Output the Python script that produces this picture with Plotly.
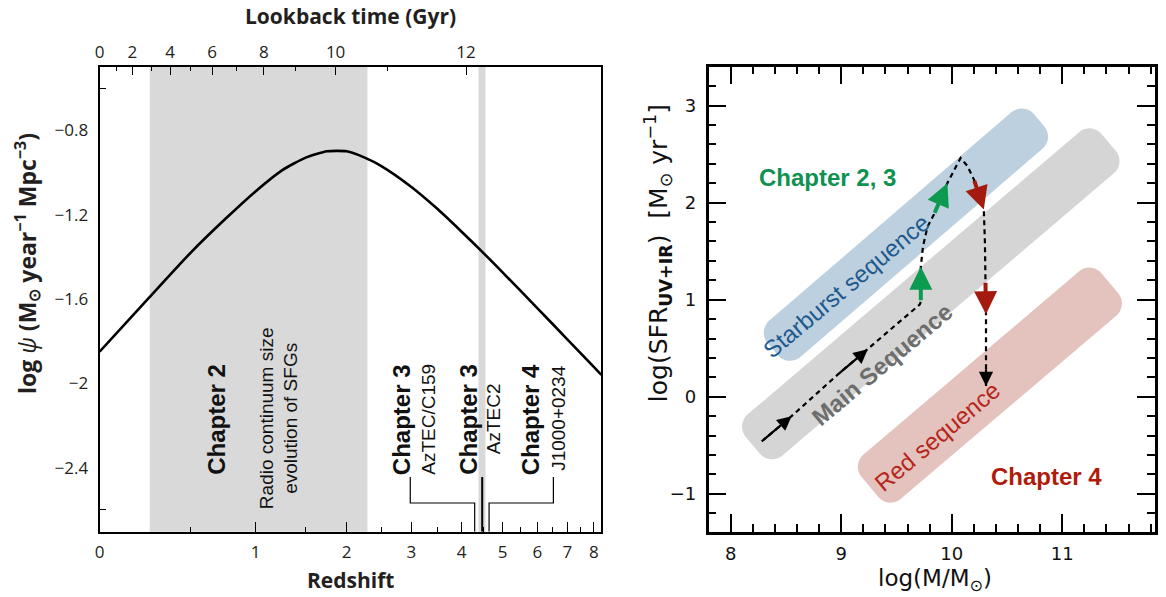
import numpy as np
import plotly.graph_objects as go

W, H = 1166, 597

# ---------------- left panel: cosmic star-formation rate density ----------------
Z_CURVE = [0, 0.25, 0.5, 0.75, 1.0, 1.25, 1.5, 1.75, 2.0, 2.25, 2.5,
           3.0, 3.5, 4.0, 4.5, 5.0, 6.0, 7.0, 8.0, 8.31]
LOG_PSI = [-1.850, -1.590, -1.380, -1.220, -1.090, -0.990, -0.930, -0.900, -0.900, -0.930, -0.970,
           -1.069, -1.175, -1.281, -1.380, -1.474, -1.643, -1.791, -1.922, -1.960]

REDSHIFT_MAJOR = [0, 1, 2, 3, 4, 5, 6, 7, 8]
REDSHIFT_MINOR = [0.5, 1.5, 2.5, 3.5, 4.5, 5.5, 6.5, 7.5]
LOOKBACK_GYR = [0, 1, 2, 3, 4, 5, 6, 7, 8, 9, 10, 11, 12]
LOOKBACK_Z = [0.0, 0.078, 0.157, 0.259, 0.369, 0.496, 0.649, 0.834, 1.076, 1.393, 1.856, 2.595, 4.10]
PSI_TICKS = [-0.8, -1.2, -1.6, -2.0, -2.4]
PSI_TICK_TEXT = ["\u22120.8", "\u22121.2", "\u22121.6", "\u22122", "\u22122.4"]
PSI_EDGE_TICKS = [-0.6, -2.6]
SHADED_Z = [(0.25, 2.29), (4.39, 4.56)]

# ---------------- right panel: SFR - stellar mass plane ----------------
MASS_TICKS = [8, 9, 10, 11]
SFR_TICKS = [-1, 0, 1, 2, 3]
SFR_TICK_TEXT = ["\u22121", "0", "1", "2", "3"]

# sequences: start (logM, logSFR), end (logM, logSFR), band width in px
BANDS = [
    ("main", (8.20, -0.50), (11.42, 2.62), 54, "#d5d5d5"),
    ("starburst", (8.38, 0.49), (10.79, 2.85), 48, "#bdd0df"),
    ("red", (9.26, -0.93), (11.43, 1.17), 58, "#e4c2be"),
]

TRACK_M = [8.28, 8.55, 8.97, 9.24, 9.71, 9.72, 9.72, 9.74, 9.78, 9.84, 9.96, 10.08,
           10.14, 10.20, 10.29, 10.30, 10.305, 10.31, 10.31]
TRACK_SFR = [-0.46, -0.20, 0.23, 0.49, 0.95, 0.98, 1.34, 1.55, 1.75, 1.88, 2.20, 2.46,
             2.38, 2.24, 1.93, 1.60, 1.19, 0.85, 0.11]

# arrows: (tail M, tail SFR, head M, head SFR)
BLACK_ARROWS = [(8.28, -0.46, 8.55, -0.20), (8.97, 0.23, 9.24, 0.49), (10.31, 0.30, 10.31, 0.11)]
GREEN_ARROWS = [(9.72, 0.98, 9.72, 1.34), (9.84, 1.88, 9.96, 2.20)]
RED_ARROWS = [(10.20, 2.24, 10.29, 1.93), (10.305, 1.19, 10.31, 0.85)]

# ---------------- geometry ----------------
LEFT_PX = (95, 599)
RIGHT_PX = (706.7, 1155)
TOP_PX, BOT_PX = 66.7, 531.7
LX_RANGE = [0.0, 0.969]
LY_RANGE = [-2.703, -0.499]
RX_RANGE = [7.80, 11.84]
RY_RANGE = [-1.39, 3.40]

def lz(z):
    return np.log10(1.0 + np.asarray(z, dtype=float))

def px(x):
    return x / W

def py(y):
    return 1 - y / H

TICK_FONT_L = dict(family="Open Sans", size=17, color="#231f20")
TICK_FONT_R = dict(family="DejaVu Sans", size=18, color="#111")

fig = go.Figure()

# left: SFRD curve
fig.add_trace(go.Scatter(x=lz(Z_CURVE), y=LOG_PSI, mode="lines",
                         line=dict(color="black", width=2.6, shape="spline", smoothing=0.6),
                         xaxis="x", yaxis="y", hoverinfo="skip", showlegend=False))
# keeps the lookback-time axis alive
fig.add_trace(go.Scatter(x=[0], y=[-1], mode="markers", marker=dict(opacity=0),
                         xaxis="x2", yaxis="y", hoverinfo="skip", showlegend=False))

# right: evolutionary track
fig.add_trace(go.Scatter(x=TRACK_M, y=TRACK_SFR, mode="lines",
                         line=dict(color="black", width=2.2, dash="5px,4px"),
                         xaxis="x3", yaxis="y2", hoverinfo="skip", showlegend=False))

shapes = []
for z0, z1 in SHADED_Z:
    shapes.append(dict(type="rect", xref="x", yref="y domain", x0=float(lz(z0)), x1=float(lz(z1)),
                       y0=0, y1=1, fillcolor="#d9d9d9", line=dict(width=0), layer="below"))

# connector brackets from labels to the redshift axis
BR_TOP, BR_MID, BR_BOT = -2.444, -2.567, LY_RANGE[0]
def seg(pts, width=1.2):
    d = "M " + " L ".join(f"{float(lz(z)):.5f},{v:.4f}" for z, v in pts)
    return dict(type="path", xref="x", yref="y", path=d, line=dict(color="black", width=width))
shapes.append(seg([(2.98, BR_TOP), (2.98, BR_MID), (4.30, BR_MID), (4.30, BR_BOT)]))
shapes.append(seg([(4.48, BR_TOP), (4.48, BR_BOT)], width=2))
shapes.append(seg([(6.52, BR_TOP), (6.52, BR_MID), (4.65, BR_MID), (4.65, BR_BOT)]))

# rounded sequence bands (rectangles in screen space)
sx = (RIGHT_PX[1] - RIGHT_PX[0]) / (RX_RANGE[1] - RX_RANGE[0])
sy = (BOT_PX - TOP_PX) / (RY_RANGE[1] - RY_RANGE[0])

def band_path(p0, p1, width, radius=16, n=10):
    u0, v0 = p0[0] * sx, p0[1] * sy
    u1, v1 = p1[0] * sx, p1[1] * sy
    L = np.hypot(u1 - u0, v1 - v0)
    d = np.array([(u1 - u0) / L, (v1 - v0) / L])
    nrm = np.array([-d[1], d[0]])
    hw = width / 2.0
    r = min(radius, hw)
    pts = []
    arcs = [((L - r, -hw + r), -90, 0), ((L - r, hw - r), 0, 90),
            ((r, hw - r), 90, 180), ((r, -hw + r), 180, 270)]
    for (ct, cw), a0, a1 in arcs:
        for a in np.radians(np.linspace(a0, a1, n)):
            t, w = ct + r * np.cos(a), cw + r * np.sin(a)
            u = u0 + t * d[0] + w * nrm[0]
            v = v0 + t * d[1] + w * nrm[1]
            pts.append((u / sx, v / sy))
    return "M " + " L ".join(f"{a:.4f},{b:.4f}" for a, b in pts) + " Z"

for name, p0, p1, wdt, col in BANDS:
    shapes.append(dict(type="path", xref="x3", yref="y2", path=band_path(p0, p1, wdt),
                       fillcolor=col, line=dict(width=0), layer="below"))

annotations = []

def arrow(a, color, width, size):
    return dict(x=a[2], y=a[3], ax=a[0], ay=a[1], xref="x3", yref="y2", axref="x3", ayref="y2",
                text="", showarrow=True, arrowhead=2, arrowsize=size, arrowwidth=width,
                arrowcolor=color, standoff=0, startstandoff=0)

for a in BLACK_ARROWS:
    annotations.append(arrow(a, "black", 2.2, 1.3))
for a in GREEN_ARROWS:
    annotations.append(arrow(a, "#0b9a4f", 4, 1.15))
for a in RED_ARROWS:
    annotations.append(arrow(a, "#a51a0e", 4, 1.15))

# left panel rotated labels
def vlabel(text, z, y, size, bold=False, yanchor="bottom"):
    t = f"<b>{text}</b>" if bold else text
    return dict(x=float(lz(z)), y=y, xref="x", yref="y", text=t, textangle=-90, showarrow=False,
                xanchor="center", yanchor=yanchor,
                font=dict(family="Liberation Sans", size=size, color="#111"))

annotations += [
    vlabel("Chapter 2", 0.68, BR_TOP, 24, True),
    vlabel("Radio continuum size<br>evolution of SFGs", 1.22, -2.165, 19, yanchor="middle"),
    vlabel("Chapter 3", 2.83, BR_TOP, 24, True),
    vlabel("AzTEC/C159", 3.31, BR_TOP, 19),
    vlabel("Chapter 3", 4.15, BR_TOP, 24, True),
    vlabel("AzTEC2", 4.75, -2.17, 19, yanchor="middle"),
    vlabel("Chapter 4", 5.80, BR_TOP, 24, True),
    vlabel("J1000+0234", 6.67, -2.425, 19),
]

# right panel labels
def slabel(text, m, s, color, bold=False, angle=-40, size=24):
    t = f"<b>{text}</b>" if bold else text
    return dict(x=m, y=s, xref="x3", yref="y2", text=t, textangle=angle, showarrow=False,
                xanchor="center", yanchor="middle",
                font=dict(family="Liberation Sans", size=size, color=color))

annotations += [
    slabel("Starburst sequence", 9.04, 1.14, "#1f5a8e"),
    slabel("Main Sequence", 9.37, 0.33, "#6d6d6d", bold=True),
    slabel("Red sequence", 9.87, -0.41, "#b5261a"),
    slabel("Chapter 2, 3", 8.88, 2.26, "#0f9150", bold=True, angle=0),
    slabel("Chapter 4", 10.86, -0.82, "#b01c0c", bold=True, angle=0),
]

# axis titles
def title(text, x, y, font, angle=0):
    return dict(x=px(x), y=py(y), xref="paper", yref="paper", showarrow=False,
                xanchor="center", yanchor="middle", textangle=angle, text=text, font=font)

LFONT = dict(family="Open Sans", size=21, color="#231f20")
LFONT_Y = dict(family="Open Sans", size=23, color="#231f20")
RFONT = dict(family="DejaVu Sans", size=23, color="#111")
RFONT_Y = dict(family="DejaVu Sans", size=25, color="#111")
annotations += [
    title("<b>Lookback time (Gyr)</b>", 347, 16, LFONT),
    title("<b>Redshift</b>", 347, 580, LFONT),
    title("<b>log </b><i>\u03c8</i><b> (M<sub>\u2299</sub> year<sup>\u22121</sup> Mpc<sup>\u22123</sup>)</b>",
          22, 263, LFONT_Y, angle=-90),
    title("log(M/M<sub>\u2299</sub>)", 934, 580, RFONT),
    title("log(SFR<sub><b>UV+IR</b></sub>)\u00a0\u00a0[M<sub>\u2299</sub> yr<sup>\u22121</sup>]",
          656, 253, RFONT_Y, angle=-90),
]

ydom = [py(BOT_PX), py(TOP_PX)]
fig.update_layout(
    width=W, height=H, margin=dict(l=0, r=0, t=0, b=0),
    paper_bgcolor="white", plot_bgcolor="rgba(0,0,0,0)", showlegend=False,
    xaxis=dict(domain=[px(LEFT_PX[0]), px(LEFT_PX[1])], anchor="y", range=LX_RANGE,
               tickmode="array", tickvals=lz(REDSHIFT_MAJOR).tolist(),
               ticktext=[str(v) for v in REDSHIFT_MAJOR],
               ticks="inside", ticklen=10, tickwidth=1.2, tickcolor="black",
               minor=dict(tickmode="array", tickvals=lz(REDSHIFT_MINOR).tolist(),
                          ticks="inside", ticklen=5, tickwidth=1.2, tickcolor="black"),
               showline=True, linecolor="black", linewidth=2, mirror=True,
               showgrid=False, zeroline=False, tickfont=TICK_FONT_L, ticklabelstandoff=4),
    xaxis2=dict(overlaying="x", side="top", anchor="y", range=LX_RANGE,
                tickmode="array", tickvals=lz(LOOKBACK_Z[::2]).tolist(),
                ticktext=[str(v) for v in LOOKBACK_GYR[::2]],
                ticks="inside", ticklen=8, tickwidth=1.2, tickcolor="black",
                minor=dict(tickmode="array", tickvals=lz(LOOKBACK_Z[1::2]).tolist(),
                           ticks="inside", ticklen=4, tickwidth=1.2, tickcolor="black"),
                showline=False, showgrid=False, zeroline=False, tickfont=TICK_FONT_L,
                ticklabelstandoff=4),
    yaxis=dict(domain=ydom, anchor="x", range=LY_RANGE,
               tickmode="array", tickvals=PSI_TICKS, ticktext=PSI_TICK_TEXT, ticks="",
               minor=dict(tickmode="array", tickvals=PSI_EDGE_TICKS,
                          ticks="inside", ticklen=6, tickwidth=1.2, tickcolor="black"),
               showline=True, linecolor="black", linewidth=2, mirror=True,
               showgrid=False, zeroline=False, tickfont=TICK_FONT_L, ticklabelstandoff=6),
    xaxis3=dict(domain=[px(RIGHT_PX[0]), px(RIGHT_PX[1])], anchor="y2", range=RX_RANGE,
                tickmode="array", tickvals=MASS_TICKS, ticktext=[str(v) for v in MASS_TICKS],
                ticks="inside", ticklen=18, tickwidth=2, tickcolor="black",
                minor=dict(tick0=8, dtick=0.2, ticks="inside", ticklen=8, tickwidth=1.8,
                           tickcolor="black"),
                showline=True, linecolor="black", linewidth=2.5, mirror="ticks",
                showgrid=False, zeroline=False, tickfont=TICK_FONT_R, ticklabelstandoff=4),
    yaxis2=dict(domain=ydom, anchor="x3", range=RY_RANGE,
                tickmode="array", tickvals=SFR_TICKS, ticktext=SFR_TICK_TEXT,
                ticks="inside", ticklen=18, tickwidth=2, tickcolor="black",
                minor=dict(tick0=0, dtick=0.2, ticks="inside", ticklen=8, tickwidth=1.8,
                           tickcolor="black"),
                showline=True, linecolor="black", linewidth=2.5, mirror="ticks",
                showgrid=False, zeroline=False, tickfont=TICK_FONT_R, ticklabelstandoff=6),
    shapes=shapes, annotations=annotations,
)

fig.write_html("out.html")
